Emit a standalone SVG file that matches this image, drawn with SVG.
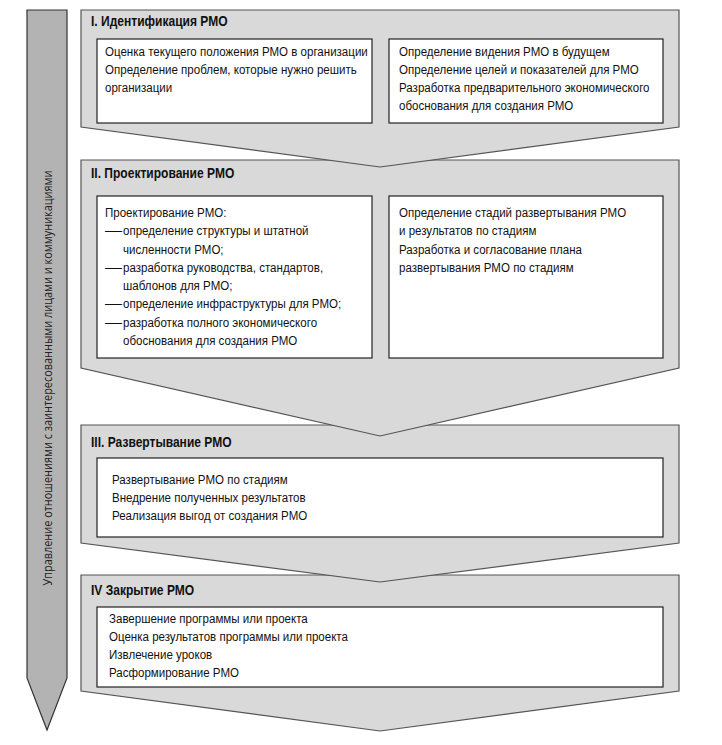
<svg xmlns="http://www.w3.org/2000/svg" width="722" height="745" viewBox="0 0 722 745">
<style>
.sec{fill:#d9d9d9;stroke:#555;stroke-width:1.2;stroke-linejoin:miter}
.box{fill:#fff;stroke:#222;stroke-width:1.2}
.bar{fill:#b3b3b3;stroke:#333;stroke-width:1.2}
.t{font-family:"Liberation Sans",Arial,sans-serif;font-size:13.5px;fill:#111}
.h{font-family:"Liberation Sans",Arial,sans-serif;font-size:14px;font-weight:bold;fill:#111}
.v{font-family:"Open Sans","Liberation Sans",Arial,sans-serif;font-size:12px;fill:#222}
</style>
<rect width="722" height="745" fill="#fff"/>
<g id="stakeholder-arrow">
<path class="bar" d="M27,10 H67 V678 L47,730 L27,678 Z"/>
<text class="v" transform="translate(52,378) rotate(-90)" text-anchor="middle" textLength="415" lengthAdjust="spacingAndGlyphs">Управление отношениями с заинтересованными лицами и коммуникациями</text>
</g>
<g id="stage-4">
<path class="sec" d="M81,575 H679 V691 L380,731 L81,691 Z"/>
<g transform="translate(91 0) scale(0.86 1)"><text class="h" x="0" y="595">IV Закрытие РМО</text></g>
<rect class="box" x="97" y="607" width="566" height="80"/>
<g transform="translate(109 0) scale(0.855 1)">
<text class="t" x="0" y="623">Завершение программы или проекта</text>
<text class="t" x="0" y="641">Оценка результатов программы или проекта</text>
<text class="t" x="0" y="659">Извлечение уроков</text>
<text class="t" x="0" y="677">Расформирование РМО</text>
</g>
</g>
<g id="stage-3">
<path class="sec" d="M81,425 H679 V543 L380,582 L81,543 Z"/>
<g transform="translate(91 0) scale(0.86 1)"><text class="h" x="0" y="447">III. Развертывание РМО</text></g>
<rect class="box" x="97" y="458" width="566" height="79"/>
<g transform="translate(112 0) scale(0.855 1)">
<text class="t" x="0" y="484">Развертывание РМО по стадиям</text>
<text class="t" x="0" y="502">Внедрение полученных результатов</text>
<text class="t" x="0" y="520">Реализация выгод от создания РМО</text>
</g>
</g>
<g id="stage-2">
<path class="sec" d="M81,160 H679 V368 L380,436 L81,368 Z"/>
<g transform="translate(91 0) scale(0.86 1)"><text class="h" x="0" y="178">II. Проектирование РМО</text></g>
<rect class="box" x="97" y="196" width="275" height="162"/>
<rect class="box" x="389" y="196" width="274" height="162"/>
<g transform="translate(105 0) scale(0.855 1)">
<text class="t" x="0" y="217">Проектирование РМО:</text>
<text class="t" x="0" y="235.3" textLength="19.9" lengthAdjust="spacingAndGlyphs">—</text>
<text class="t" x="21.1" y="235.3">определение структуры и штатной</text>
<text class="t" x="21.1" y="253.6">численности РМО;</text>
<text class="t" x="0" y="271.9" textLength="19.9" lengthAdjust="spacingAndGlyphs">—</text>
<text class="t" x="21.1" y="271.9">разработка руководства, стандартов,</text>
<text class="t" x="21.1" y="290.2">шаблонов для РМО;</text>
<text class="t" x="0" y="308.5" textLength="19.9" lengthAdjust="spacingAndGlyphs">—</text>
<text class="t" x="21.1" y="308.5">определение инфраструктуры для РМО;</text>
<text class="t" x="0" y="326.8" textLength="19.9" lengthAdjust="spacingAndGlyphs">—</text>
<text class="t" x="21.1" y="326.8">разработка полного экономического</text>
<text class="t" x="21.1" y="345.1">обоснования для создания РМО</text>
</g>
<g transform="translate(399 0) scale(0.855 1)">
<text class="t" x="0" y="217">Определение стадий развертывания РМО</text>
<text class="t" x="0" y="235.3">и результатов по стадиям</text>
<text class="t" x="0" y="253.6">Разработка и согласование плана</text>
<text class="t" x="0" y="271.9">развертывания РМО по стадиям</text>
</g>
</g>
<g id="stage-1">
<path class="sec" d="M81,10 H679 V127 L380,167 L81,127 Z"/>
<g transform="translate(91 0) scale(0.86 1)"><text class="h" x="0" y="26">I. Идентификация РМО</text></g>
<rect class="box" x="97" y="39" width="275" height="84"/>
<rect class="box" x="389" y="39" width="274" height="84"/>
<g transform="translate(105 0) scale(0.855 1)">
<text class="t" x="0" y="56">Оценка текущего положения РМО в организации</text>
<text class="t" x="0" y="74">Определение проблем, которые нужно решить</text>
<text class="t" x="0" y="92">организации</text>
</g>
<g transform="translate(399 0) scale(0.855 1)">
<text class="t" x="0" y="56">Определение видения РМО в будущем</text>
<text class="t" x="0" y="74">Определение целей и показателей для РМО</text>
<text class="t" x="0" y="92">Разработка предварительного экономического</text>
<text class="t" x="0" y="110">обоснования для создания РМО</text>
</g>
</g>
</svg>
